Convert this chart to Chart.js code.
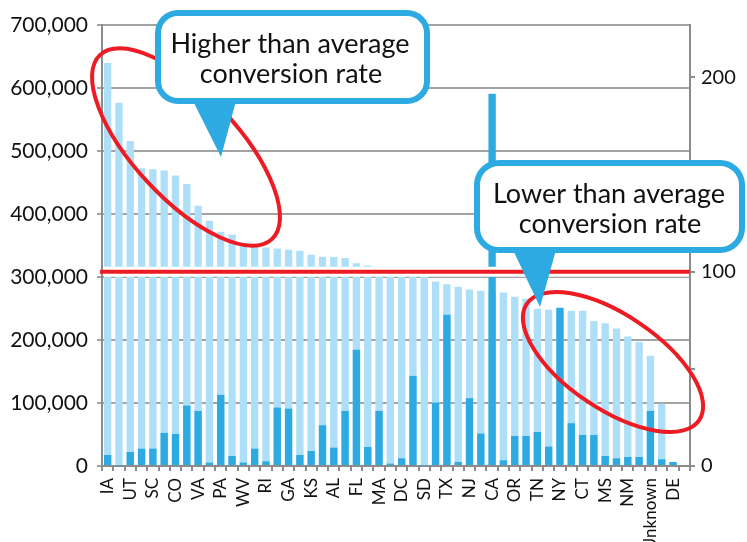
<!DOCTYPE html>
<html>
<head>
<meta charset="utf-8">
<script src="https://cdn.jsdelivr.net/npm/chart.js@4.4.1/dist/chart.umd.min.js"></script>
<style>
  html, body { margin: 0; padding: 0; background: #fff; }
  #wrap { width: 747px; height: 542px; }
</style>
</head>
<body>
<div id="wrap"><canvas id="chart" width="747" height="542"></canvas></div>
<script>
// states, sorted by conversion index; only every other name is printed on the axis
const stateLabels = [
  'IA', '', 'UT', '', 'SC', '', 'CO', '', 'VA', '',
  'PA', '', 'WV', '', 'RI', '', 'GA', '', 'KS', '',
  'AL', '', 'FL', '', 'MA', '', 'DC', '', 'SD', '',
  'TX', '', 'NJ', '', 'CA', '', 'OR', '', 'TN', '',
  'NY', '', 'CT', '', 'MS', '', 'NM', '', 'Unknown', '',
  'DE', ''
];

// conversion rate index (right axis, 100 = average)
const rateIndex = [
  207.4, 187.0, 167.3, 153.2, 152.7, 152.1, 149.5, 145.2, 133.9, 126.3,
  120.6, 119.2, 114.9, 113.4, 112.5, 112.0, 111.3, 110.8, 108.7, 107.7,
  107.6, 107.1, 104.3, 103.2, 101.0, 100.4, 99.8, 99.0, 98.2, 95.0,
  93.5, 92.3, 90.9, 90.2, 89.7, 89.3, 87.1, 86.1, 80.9, 80.4,
  80.1, 79.9, 79.9, 74.6, 73.5, 70.8, 66.6, 63.8, 56.7, 32.1,
  1.5, 0.5
];

// volume (left axis)
const volume = [
  17500, 1000, 22300, 27500, 27500, 52500, 50900, 95900, 87400, 5300,
  112900, 15900, 5300, 27500, 7400, 92700, 91000, 17500, 23800, 64700,
  29100, 87400, 184400, 30200, 87400, 3700, 12200, 143000, 1000, 100700,
  240000, 6400, 107600, 51400, 591000, 9000, 47700, 47700, 54000, 30700,
  251000, 67900, 49300, 49300, 15900, 12200, 14300, 14300, 87400, 10600,
  6400, 1500
];

const averageIndex = 100;
const leftTicksMax = 700000;
const rightTicksMax = 227;

const AXIS_GREY = '#8c8c8c';
const GRID_GREY = '#a3a3a3';
const RED = '#ed1c24';
const BLUE = '#2eaae2';
const LIGHT = '#addff8';
const FONT = 'Lato, "Open Sans", sans-serif';

function roundRect(ctx, x0, y0, x1, y1, r) {
  ctx.beginPath();
  ctx.moveTo(x0 + r, y0);
  ctx.lineTo(x1 - r, y0);
  ctx.arcTo(x1, y0, x1, y0 + r, r);
  ctx.lineTo(x1, y1 - r);
  ctx.arcTo(x1, y1, x1 - r, y1, r);
  ctx.lineTo(x0 + r, y1);
  ctx.arcTo(x0, y1, x0, y1 - r, r);
  ctx.lineTo(x0, y0 + r);
  ctx.arcTo(x0, y0, x0 + r, y0, r);
  ctx.closePath();
}

function callout(ctx, box, tri, lines) {
  ctx.fillStyle = '#fff';
  ctx.strokeStyle = BLUE;
  ctx.lineWidth = 6;
  roundRect(ctx, box.x0, box.y0, box.x1, box.y1, box.r);
  ctx.fill();
  ctx.stroke();
  ctx.beginPath();
  ctx.moveTo(tri[0][0], tri[0][1]);
  ctx.lineTo(tri[1][0], tri[1][1]);
  ctx.lineTo(tri[2][0], tri[2][1]);
  ctx.closePath();
  ctx.fillStyle = BLUE;
  ctx.fill();
  ctx.fillStyle = '#111';
  ctx.font = '27px ' + FONT;
  ctx.textAlign = 'center';
  ctx.textBaseline = 'middle';
  lines.forEach((l) => ctx.fillText(l.text, l.x, l.y));
}

const avgLinePlugin = {
  id: 'avgLine',
  afterDatasetsDraw(chart) {
    const { ctx, chartArea, scales } = chart;
    const y = scales.y2.getPixelForValue(averageIndex);
    ctx.save();
    ctx.beginPath();
    ctx.strokeStyle = '#fff';
    ctx.lineWidth = 10;
    ctx.moveTo(chartArea.left + 2, y);
    ctx.lineTo(chartArea.right - 1, y);
    ctx.stroke();
    ctx.beginPath();
    ctx.strokeStyle = RED;
    ctx.lineWidth = 4;
    ctx.moveTo(chartArea.left - 2, y);
    ctx.lineTo(chartArea.right, y);
    ctx.stroke();
    ctx.restore();
  }
};

const notesPlugin = {
  id: 'notes',
  afterDraw(chart) {
    const { ctx } = chart;
    ctx.save();
    ctx.strokeStyle = RED;
    ctx.lineWidth = 4;
    ctx.beginPath();
    ctx.ellipse(186, 147, 126, 52, 47 * Math.PI / 180, 0, Math.PI * 2);
    ctx.stroke();
    ctx.beginPath();
    ctx.ellipse(613, 362, 104, 47, 34 * Math.PI / 180, 0, Math.PI * 2);
    ctx.stroke();

    callout(ctx, { x0: 158, y0: 13, x1: 427, y1: 101, r: 20 },
      [[193, 101], [236, 101], [221, 157]],
      [{ text: 'Higher than average', x: 290, y: 44 },
       { text: 'conversion rate', x: 291, y: 74 }]);
    callout(ctx, { x0: 477, y0: 163, x1: 742, y1: 250, r: 22 },
      [[513, 250], [556, 250], [540, 307]],
      [{ text: 'Lower than average', x: 609, y: 194 },
       { text: 'conversion rate', x: 610, y: 224 }]);
    ctx.restore();
  }
};

new Chart(document.getElementById('chart'), {
  type: 'bar',
  data: {
    labels: stateLabels,
    datasets: [
      {
        label: 'Volume',
        data: volume,
        yAxisID: 'y',
        backgroundColor: BLUE,
        grouped: false,
        order: 1,
        barPercentage: 0.65,
        categoryPercentage: 1
      },
      {
        label: 'Conversion index',
        data: rateIndex,
        yAxisID: 'y2',
        backgroundColor: LIGHT,
        grouped: false,
        order: 2,
        barPercentage: 0.65,
        categoryPercentage: 1
      }
    ]
  },
  plugins: [avgLinePlugin, notesPlugin],
  options: {
    responsive: false,
    animation: false,
    layout: { padding: { top: 25, left: 0, right: 0, bottom: 0 } },
    plugins: { legend: { display: false }, tooltip: { enabled: false } },
    scales: {
      x: {
        offset: true,
        grid: { offset: true, drawOnChartArea: false, color: AXIS_GREY, lineWidth: 2, tickLength: 5 },
        border: { color: AXIS_GREY, width: 2 },
        ticks: {
          autoSkip: false,
          minRotation: 90,
          maxRotation: 90,
          padding: 7,
          color: '#111',
          font: { family: FONT, size: 17 }
        },
        afterFit: (s) => { s.height = 76; }
      },
      y: {
        position: 'left',
        min: 0,
        max: leftTicksMax,
        ticks: {
          stepSize: 100000,
          padding: 9,
          color: '#111',
          font: { family: FONT, size: 21 },
          callback: (v) => v.toLocaleString('en-US')
        },
        grid: { color: GRID_GREY, lineWidth: 2, tickLength: 5 },
        border: { color: AXIS_GREY, width: 2 },
        afterFit: (s) => { s.width = 102; }
      },
      y2: {
        position: 'right',
        min: 0,
        max: rightTicksMax,
        ticks: {
          stepSize: 50,
          padding: 6,
          color: '#111',
          font: { family: FONT, size: 20 },
          callback: (v) => (v % 100 === 0 ? String(v) : (v % 50 === 0 ? '' : null))
        },
        grid: { drawOnChartArea: false, color: AXIS_GREY, lineWidth: 2, tickLength: 5 },
        border: { color: AXIS_GREY, width: 2 },
        afterFit: (s) => { s.width = 57; }
      }
    }
  }
});
</script>
</body>
</html>
